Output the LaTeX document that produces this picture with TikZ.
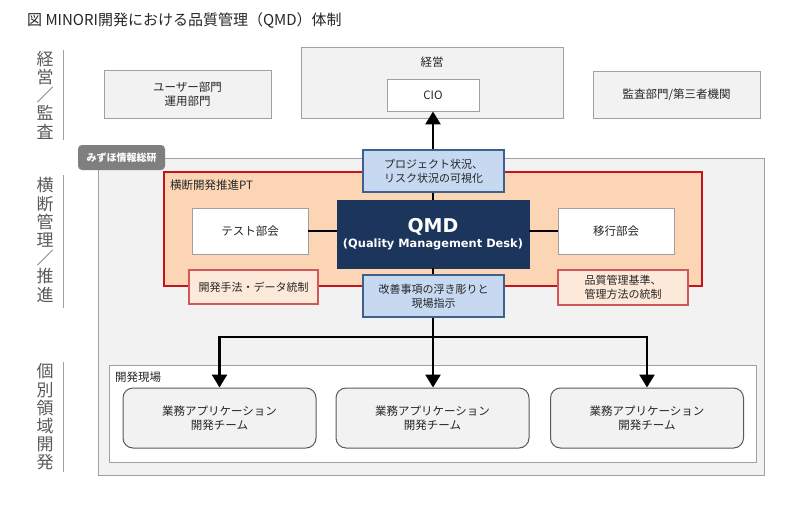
\documentclass[tikz,border=0pt]{standalone}
\usepackage{fontspec}
\setmainfont{Noto Sans CJK JP}
\newfontfamily\dvs{DejaVu Sans}
\usetikzlibrary{arrows.meta}
\definecolor{lgray}{HTML}{F2F2F2}
\definecolor{bgray}{HTML}{A0A0A0}
\definecolor{peach}{HTML}{FCD5B5}
\definecolor{lpeach}{HTML}{FDE9D9}
\definecolor{ptred}{HTML}{C4121F}
\definecolor{sred}{HTML}{D0575A}
\definecolor{lblue}{HTML}{C6D9F1}
\definecolor{dblue}{HTML}{3F5F8C}
\definecolor{navy}{HTML}{1B355C}
\definecolor{tabgray}{HTML}{7F7F7F}
\definecolor{txt}{HTML}{262626}
\definecolor{sidegray}{HTML}{595959}
\tikzset{
  box/.style={draw=bgray, line width=0.9pt, fill=lgray, align=center, text=txt, font=\fontsize{11.5}{14}\selectfont, inner sep=0pt},
  wbox/.style={box, fill=white},
  bluebox/.style={draw=dblue, line width=1.2pt, fill=lblue, align=center, text=txt, font=\fontsize{11}{14}\selectfont, inner sep=0pt},
  redbox/.style={draw=sred, line width=1.2pt, fill=lpeach, align=center, text=txt, font=\fontsize{11}{14}\selectfont, inner sep=0pt},
  team/.style={draw=sidegray, line width=1pt, fill=lgray, rounded corners=10pt, align=center, text=txt, font=\fontsize{11.5}{14}\selectfont, inner sep=0pt, minimum width=193pt, minimum height=60pt},
  arr/.style={line width=2.6pt, -{Triangle[width=15pt,length=13pt]}},
  thinline/.style={line width=1.2pt, black},
  side/.style={text=sidegray, font=\fontsize{17}{18.2}\selectfont, align=center, inner sep=0pt},
  sideline/.style={draw=bgray, line width=0.8pt},
  lbl/.style={text=txt, font=\fontsize{11.5}{14}\selectfont, inner sep=0pt, anchor=west}
}
\begin{document}
\begin{tikzpicture}[x=1pt,y=-1pt]
\useasboundingbox (0,0) rectangle (800,512);
% title
\node[anchor=west, inner sep=0pt, text=txt, font=\fontsize{15}{18}\selectfont] (title) at (27,20) {図 MINORI開発における品質管理（QMD）体制};
% side labels
\node[side] (s1) at (45,95) {経\\営\\／\\監\\査};
\draw[sideline] (63,50) -- (63,140);
\node[side] (s2) at (45,240) {横\\断\\管\\理\\／\\推\\進};
\draw[sideline] (63,175) -- (63,308);
\node[side] (s3) at (45,417) {個\\別\\領\\域\\開\\発};
\draw[sideline] (63,362) -- (63,472);
% top row
\node[box, minimum width=167pt, minimum height=48pt] (user) at (187.5,94) {ユーザー部門\\運用部門};
\node[box, minimum width=262pt, minimum height=71pt] (keiei) at (432,82.5) {};
\node[lbl, anchor=center] (keieilbl) at (432,62) {経営};
\node[wbox, minimum width=92pt, minimum height=32pt] (cio) at (433,95) {CIO};
\node[box, minimum width=167pt, minimum height=47pt] (kansa) at (676.5,94.5) {監査部門/第三者機関};
% big gray area
\node[box, minimum width=666pt, minimum height=317pt] (area) at (431,316.5) {};
\node[fill=tabgray, rounded corners=4pt, minimum width=87pt, minimum height=25pt, inner sep=0pt, text=white, font=\fontsize{10}{12}\bfseries\selectfont] (tab) at (121.5,157.5) {みずほ情報総研};
% PT
\node[draw=ptred, line width=1.6pt, fill=peach, minimum width=538pt, minimum height=114pt, inner sep=0pt] (pt) at (433,229) {};
\node[lbl] (ptlbl) at (170,185) {横断開発推進PT};
% lines in PT
\node[wbox, minimum width=116pt, minimum height=46pt] (test) at (250,231) {テスト部会};
\node[wbox, minimum width=116pt, minimum height=46pt] (ikou) at (616,231) {移行部会};
\node[fill=navy, draw=navy, minimum width=192pt, minimum height=68pt, inner sep=0pt, align=center, text=white] (qmd) at (433,234) {{\dvs\bfseries\fontsize{19}{21}\selectfont QMD}\\[3pt]{\dvs\bfseries\fontsize{11.4}{13}\selectfont (Quality Management Desk)}};
\draw[thinline] (test) -- (test -| qmd.west);
\draw[thinline] (ikou) -- (ikou -| qmd.east);
\node[bluebox, minimum width=141pt, minimum height=42pt] (btop) at (433.5,171) {プロジェクト状況、\\リスク状況の可視化};
\node[bluebox, minimum width=141pt, minimum height=42pt] (bbot) at (433.5,296) {改善事項の浮き彫りと\\現場指示};
\draw[thinline] (btop.south -| qmd.north) -- (qmd.north);
\draw[thinline] (qmd.south) -- (bbot.north -| qmd.south);
\node[redbox, minimum width=129pt, minimum height=34pt] (kdata) at (253.5,287) {開発手法・データ統制};
\node[redbox, minimum width=130pt, minimum height=35pt] (hinshitsu) at (623,287.5) {品質管理基準、\\管理方法の統制};
% arrow up
\draw[arr] (btop.north -| cio.south) -- (cio.south);
% genba
\node[wbox, minimum width=647pt, minimum height=97pt] (genba) at (432.5,413.5) {};
\node[lbl] (genbalbl) at (115,377) {開発現場};
\node[team] (t1) at (219.5,418) {業務アプリケーション\\開発チーム};
\node[team] (t2) at (432.5,418) {業務アプリケーション\\開発チーム};
\node[team] (t3) at (647,418) {業務アプリケーション\\開発チーム};
% down arrows
\coordinate (j) at (433,337);
\draw[line width=2.6pt] (bbot.south -| j) -- (j);
\draw[arr] (j) -- (t2.north -| j);
\draw[arr] (j) -| (t1.north);
\draw[arr] (j) -| (t3.north);
\end{tikzpicture}
\end{document}
